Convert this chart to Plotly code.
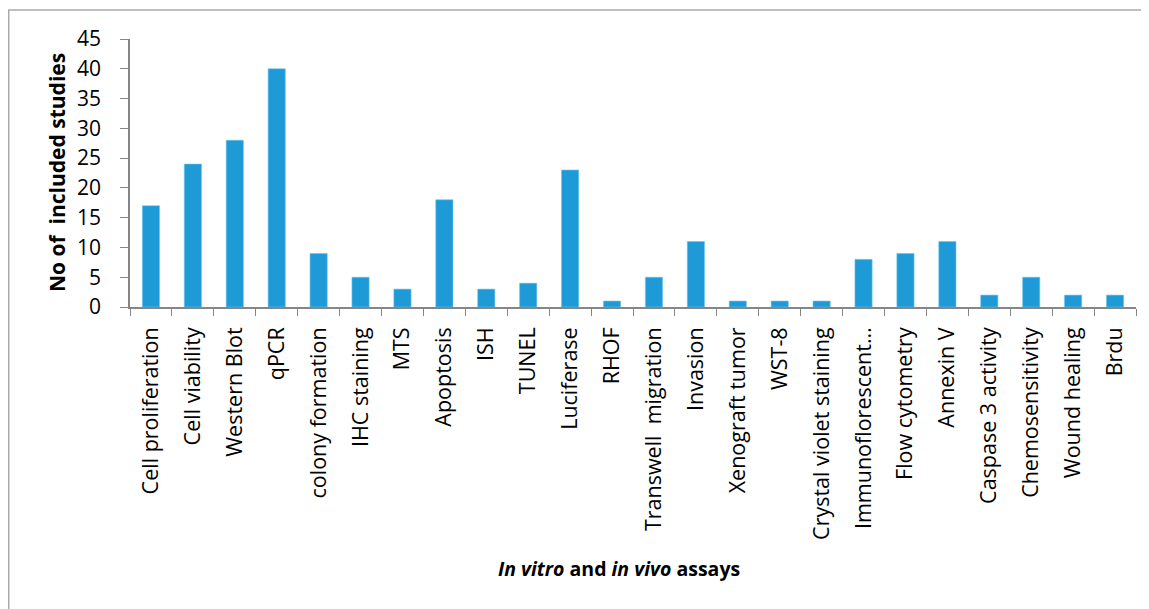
import plotly.graph_objects as go

assays = [
    "Cell proliferation", "Cell viability", "Western Blot", "qPCR",
    "colony formation", "IHC staining", "MTS", "Apoptosis", "ISH", "TUNEL",
    "Luciferase", "RHOF", "Transwell  migration", "Invasion",
    "Xenograft tumor", "WST-8", "Crystal violet staining",
    "Immunoflorescent…", "Flow cytometry", "Annexin V",
    "Caspase 3 activity", "Chemosensitivity", "Wound healing", "Brdu",
]
n_studies = [17, 24, 28, 40, 9, 5, 3, 18, 3, 4, 23, 1, 5, 11, 1, 1, 1, 8, 9, 11, 2, 5, 2, 2]
y_ticks = list(range(0, 50, 5))

BAR_COLOR = "#1E9BD7"
AXIS_COLOR = "#868686"
FONT = "Open Sans, Lato, sans-serif"

# page has an 8px body margin, so the figure is drawn 8px smaller
W, H = 1141, 601
L, R, T, B = 122, 13, 31, 302
PW, PH = W - L - R, H - T - B

fig = go.Figure(
    go.Bar(
        x=assays,
        y=n_studies,
        marker=dict(color=BAR_COLOR, line=dict(color="#6FC3EA", width=0.6)),
    )
)

fig.update_layout(
    width=W,
    height=H,
    plot_bgcolor="white",
    paper_bgcolor="white",
    font=dict(family=FONT, size=21, color="black"),
    margin=dict(l=L, r=R, t=T, b=B),
    bargap=0.59,
    showlegend=False,
)

fig.update_xaxes(
    showline=True,
    linecolor=AXIS_COLOR,
    linewidth=1.5,
    ticks="outside",
    tickson="boundaries",
    ticklen=7,
    tickcolor=AXIS_COLOR,
    tickangle=-90,
    tickfont=dict(family=FONT, size=21.5),
    showgrid=False,
    ticklabelstandoff=10,
)
fig.update_yaxes(
    range=[0, 45],
    tickvals=y_ticks,
    showline=True,
    linecolor=AXIS_COLOR,
    linewidth=1.5,
    ticks="outside",
    ticklen=8,
    tickcolor=AXIS_COLOR,
    tickfont=dict(family=FONT, size=21),
    showgrid=False,
    zeroline=False,
    ticklabelstandoff=15,
)

# y-axis title
fig.add_annotation(
    text="<b>No of  included studies</b>",
    xref="paper", yref="paper",
    x=(49 - L) / PW, y=0.5,
    xanchor="center", yanchor="middle",
    textangle=-90, showarrow=False,
    font=dict(family=FONT, size=21),
)
# x-axis title
fig.add_annotation(
    text="<b><i>In vitro</i> and <i>in vivo</i> assays</b>",
    xref="paper", yref="paper",
    x=(611 - L) / PW, y=(H - B - 560) / PH,
    xanchor="center", yanchor="middle",
    showarrow=False,
    font=dict(family=FONT, size=19.5),
)

# chart-area border
fig.add_shape(
    type="rect", xref="paper", yref="paper",
    x0=(0.75 - L) / PW, x1=1.2, y0=-3, y1=(H - B - 2) / PH,
    line=dict(color="#ABABAB", width=1.5), layer="below",
)

fig.write_html("out.html")
